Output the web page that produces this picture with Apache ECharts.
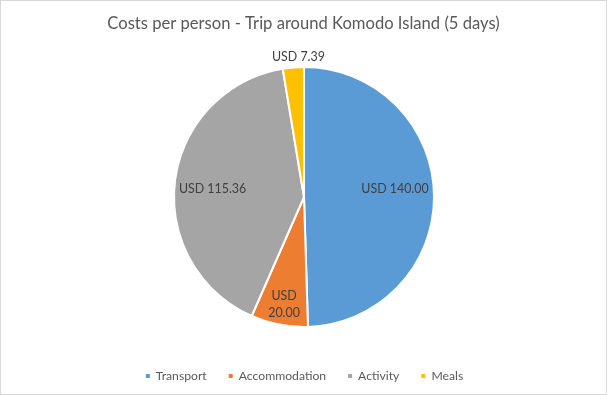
<!DOCTYPE html>
<html><head><meta charset="utf-8">
<script src="https://cdn.jsdelivr.net/npm/echarts@6/dist/echarts.min.js"></script>
<style>
html,body{margin:0;padding:0;background:#fff;}
#c{position:absolute;left:0;top:0;width:605px;height:393px;border:1px solid #d9d9d9;}
</style></head>
<body><div id="c"></div>
<script>
const titleText = 'Costs per person - Trip around Komodo Island (5 days)';
const categories = ['Transport', 'Accommodation', 'Activity', 'Meals'];
const values = [140.00, 20.00, 115.36, 7.39];
const colors = ['#5B9BD5', '#ED7D31', '#A5A5A5', '#FFC000'];
// label offsets (styling only)
const labelShift = [[23, -7], [-7, 41], [-24, 0], [0, -72]];

const chart = echarts.init(document.getElementById('c'));
const font = 'Lato, "Liberation Sans", sans-serif';
chart.setOption({
  animation: false,
  color: colors,
  title: {
    text: titleText, left: 'center', top: 9,
    textStyle: {fontFamily: font, fontSize: 16.6, fontWeight: 'normal', color: '#595959'}
  },
  legend: {
    data: categories, bottom: 7, left: 'center',
    itemWidth: 6, itemHeight: 6, itemGap: 20, icon: 'rect',
    textStyle: {fontFamily: font, fontSize: 12.2, color: '#595959'}
  },
  series: [{
    type: 'pie',
    center: [303, 196],
    radius: 130,
    startAngle: 90,
    clockwise: true,
    itemStyle: {borderColor: '#fff', borderWidth: 2},
    label: {
      position: 'inside',
      fontFamily: font, fontSize: 12.4, color: '#404040', lineHeight: 17,
      formatter: p => p.dataIndex === 1 ? 'USD\n' + p.value.toFixed(2) : 'USD ' + p.value.toFixed(2)
    },
    labelLayout: p => ({dx: labelShift[p.dataIndex][0], dy: labelShift[p.dataIndex][1]}),
    emphasis: {disabled: true},
    data: categories.map((c, i) => ({name: c, value: values[i]}))
  }]
});
</script></body></html>
